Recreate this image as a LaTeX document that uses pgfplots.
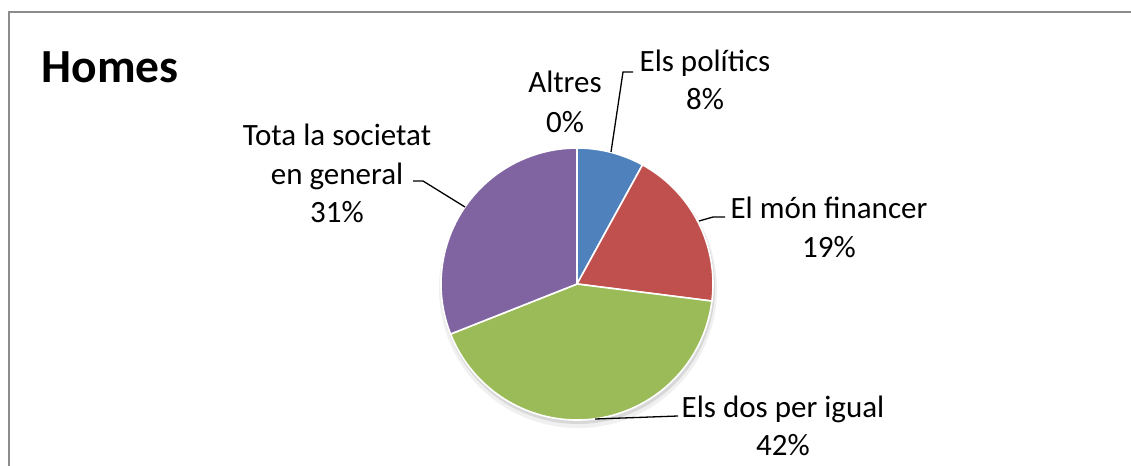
\documentclass[border=0pt]{standalone}
\usepackage{fontspec}
\setmainfont{Carlito}
\usepackage{pgfplots}
\pgfplotsset{compat=1.18}
\definecolor{pieblue}{HTML}{4F81BD}
\definecolor{piered}{HTML}{C0504D}
\definecolor{piegreen}{HTML}{9BBB59}
\definecolor{piepurple}{HTML}{8064A2}
\definecolor{framegray}{HTML}{8C8C8C}

% shares in percent
\def\pPolitics{8}
\def\pFinance{19}
\def\pBoth{42}
\def\pSociety{31}
\def\pOther{0}

% #1 start angle, #2 percent, #3 colour
\newcommand{\slice}[3]{%
  \filldraw[fill=#3, draw=white, line width=1.6bp, line join=round]
    (axis cs:577,284) -- ++({#1}:136bp)
    arc[start angle={#1}, end angle={#1-3.6*#2}, radius=136bp] -- cycle;}

\newcommand{\lbl}{\fontsize{31bp}{39bp}\selectfont}

\begin{document}
\begin{tikzpicture}
\begin{axis}[
    width=1131bp, height=466bp, scale only axis,
    xmin=0, xmax=1131, ymin=0, ymax=466,
    y dir=reverse,
    hide axis,
    clip=false,
]
% frame (only left and top edges are inside the picture)
\draw[framegray, line width=2.2bp] (axis cs:9,466) -- (axis cs:9,12) -- (axis cs:1131,12);

% title
\node[anchor=base west, font=\fontsize{47.5bp}{52bp}\selectfont\bfseries] at (axis cs:38,83) {Homes};

% shadow
\fill[black, opacity=0.06] (axis cs:578,289) circle[radius=139bp];
\fill[black, opacity=0.10] (axis cs:578,287) circle[radius=137bp];

% slices
\slice{90}{\pPolitics}{pieblue}
\slice{90-3.6*\pPolitics}{\pFinance}{piered}
\slice{90-3.6*(\pPolitics+\pFinance)}{\pBoth}{piegreen}
\slice{90-3.6*(\pPolitics+\pFinance+\pBoth)}{\pSociety}{piepurple}

% leader lines
\draw[black, line width=1.3bp] (axis cs:633,72) -- (axis cs:623,72) -- (axis cs:611,152);
\draw[black, line width=1.3bp] (axis cs:725,217) -- (axis cs:713,217) -- (axis cs:699,221);
\draw[black, line width=1.3bp] (axis cs:413,181) -- (axis cs:423,181) -- (axis cs:465,207);
\draw[black, line width=1.3bp] (axis cs:678,416) -- (axis cs:595,419);

% labels
\node[anchor=base, font=\lbl] at (axis cs:565,93) {Altres};
\node[anchor=base, font=\lbl] at (axis cs:565,132) {\pOther\%};
\node[anchor=base, font=\lbl] at (axis cs:705,72) {Els polítics};
\node[anchor=base, font=\lbl] at (axis cs:705,110) {\pPolitics\%};
\node[anchor=base, font=\lbl] at (axis cs:829,218) {El món financer};
\node[anchor=base, font=\lbl] at (axis cs:829,257) {\pFinance\%};
\node[anchor=base, font=\lbl] at (axis cs:337,145) {Tota la societat};
\node[anchor=base, font=\lbl] at (axis cs:337,184) {en general};
\node[anchor=base, font=\lbl] at (axis cs:337,222) {\pSociety\%};
\node[anchor=base, font=\lbl] at (axis cs:783,417) {Els dos per igual};
\node[anchor=base, font=\lbl] at (axis cs:783,455) {\pBoth\%};
\end{axis}
\pgfresetboundingbox
\useasboundingbox (current axis.south west) rectangle (current axis.north east);
\end{tikzpicture}
\end{document}
